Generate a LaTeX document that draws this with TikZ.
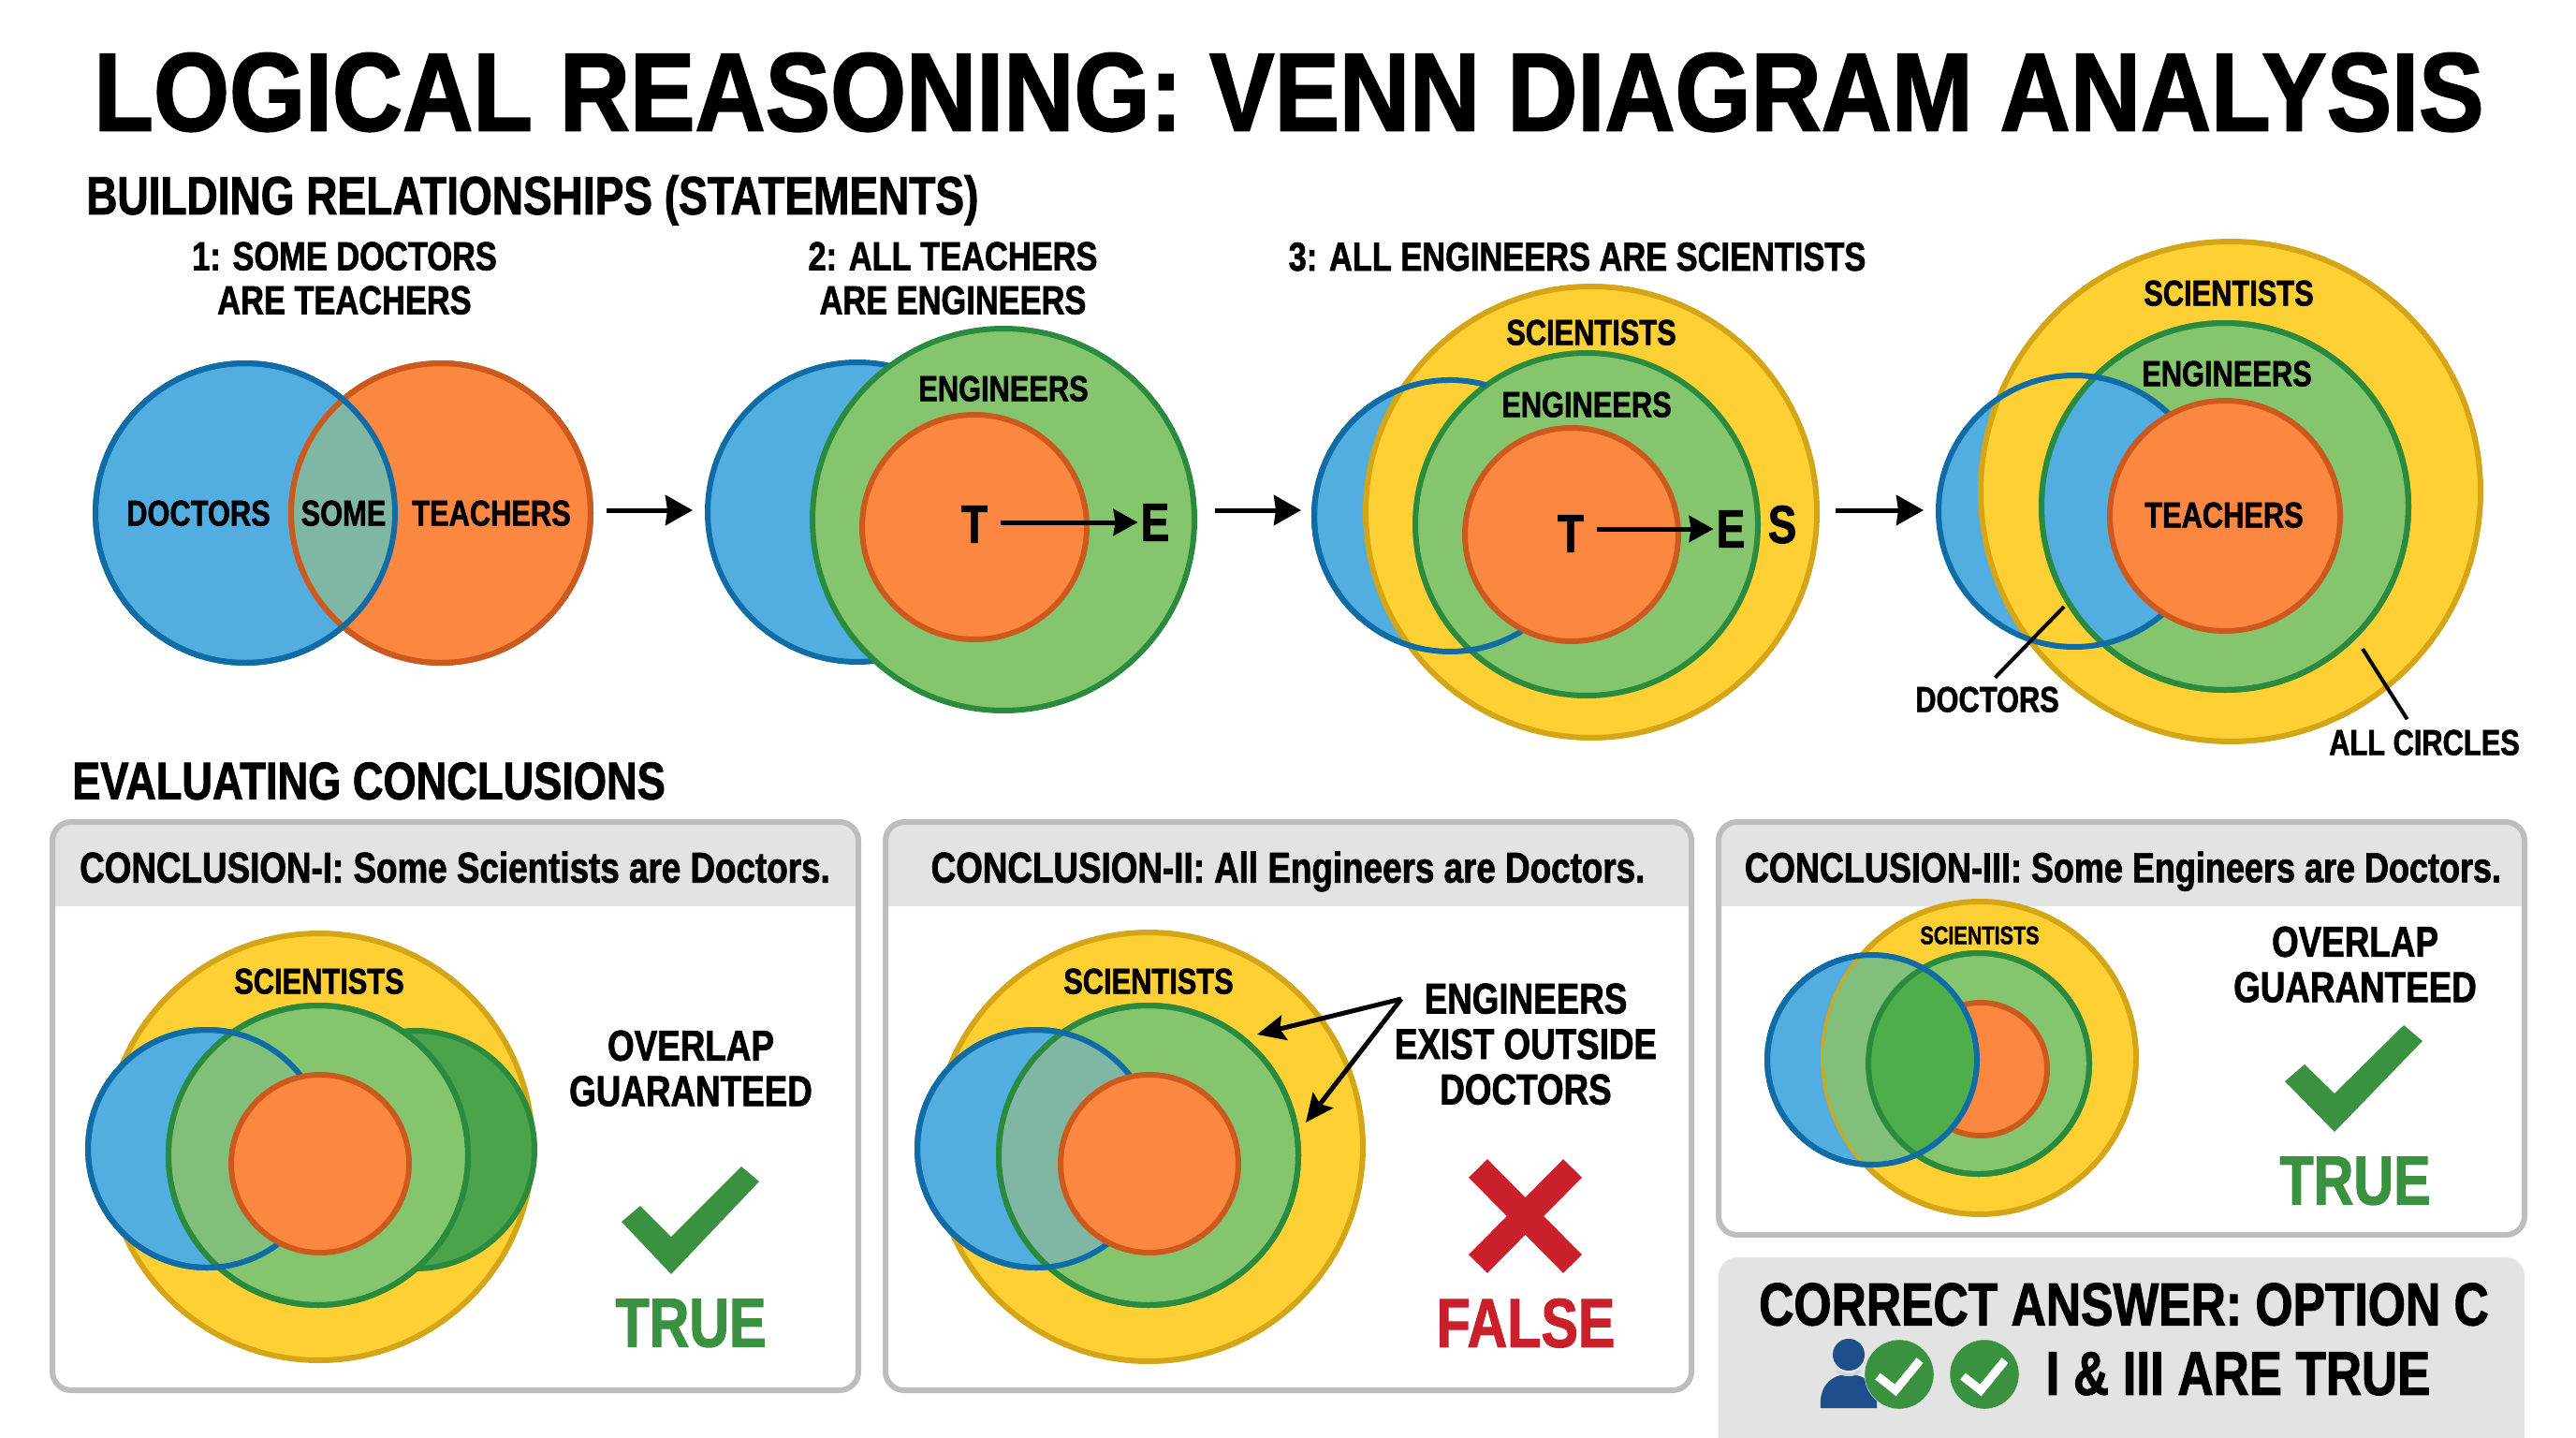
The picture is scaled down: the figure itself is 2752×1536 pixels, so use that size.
\documentclass[tikz,border=0pt]{standalone}
\usepackage{fontspec}
\setmainfont[FakeStretch=0.8,BoldFeatures={FakeBold=1.5}]{Liberation Sans}
\newfontfamily\titlefont[FakeStretch=0.875,BoldFeatures={FakeBold=1.5}]{Liberation Sans}
\usetikzlibrary{arrows,arrows.meta}

\definecolor{docfill}{HTML}{52ADE0}
\definecolor{docline}{HTML}{0F6CA6}
\definecolor{teafill}{HTML}{FC8740}
\definecolor{tealine}{HTML}{CC5A1E}
\definecolor{engfill}{HTML}{84C56E}
\definecolor{engline}{HTML}{2A8A3E}
\definecolor{scifill}{HTML}{FFD033}
\definecolor{sciline}{HTML}{D4A516}
\definecolor{lensteal}{HTML}{7FB6A4}
\definecolor{lenspale}{HTML}{82BF7A}
\definecolor{lensdark}{HTML}{4FAE4C}
\definecolor{otherfill}{HTML}{4BA34B}
\definecolor{okgreen}{HTML}{3A9140}
\definecolor{badred}{HTML}{C9202C}
\definecolor{panelline}{HTML}{BDBDBD}
\definecolor{panelhead}{HTML}{E3E3E3}
\definecolor{personblue}{HTML}{1F4E8C}

\begin{document}
\begin{tikzpicture}[x=1pt,y=-1pt,>=stealth']
    \tikzstyle{doc}=[draw=docline,fill=docfill,line width=6pt]
    \tikzstyle{tea}=[draw=tealine,fill=teafill,line width=6pt]
    \tikzstyle{eng}=[draw=engline,fill=engfill,line width=6pt]
    \tikzstyle{sci}=[draw=sciline,fill=scifill,line width=6pt]
    \tikzstyle{docedge}=[draw=docline,line width=6pt]
    \tikzstyle{teaedge}=[draw=tealine,line width=6pt]
    \tikzstyle{engedge}=[draw=engline,line width=6pt]
    \tikzstyle{txt}=[inner sep=1pt,text depth=0pt,align=center]
    \tikzstyle{heading}=[txt,font=\bfseries\fontsize{56.5}{60}\selectfont]
    \tikzstyle{stmt}=[txt,font=\bfseries\fontsize{43}{47}\selectfont]
    \tikzstyle{lbl}=[txt,font=\bfseries\fontsize{38.5}{42}\selectfont]
    \tikzstyle{smalllbl}=[txt,font=\bfseries\fontsize{27}{30}\selectfont]
    \tikzstyle{biglbl}=[txt,inner sep=3pt,font=\bfseries\fontsize{57}{60}\selectfont]
    \tikzstyle{note}=[txt,font=\bfseries\fontsize{46}{48.5}\selectfont]
    \tikzstyle{verdict}=[txt,font=\bfseries\fontsize{74}{78}\selectfont]
    \tikzstyle{answer}=[txt,font=\bfseries\fontsize{66}{70}\selectfont]
    \tikzstyle{hop}=[-{Stealth[length=29pt,width=32pt,inset=2pt]},line width=5pt]
    \tikzstyle{inner hop}=[-{Stealth[length=26pt,width=28pt,inset=2pt]},line width=5pt,shorten <=11pt]
    \tikzstyle{pointer}=[-{Stealth[length=30pt,width=27pt,inset=5pt]},line width=5pt]
    \tikzstyle{leader}=[line width=4pt,shorten >=12pt]
    \tikzstyle{panel}=[draw=panelline,line width=6pt,rounded corners=20pt]
    \tikzstyle{headbar}=[fill=panelhead,rounded corners=20pt]

    \useasboundingbox (0,0) rectangle (2752,1536);

    \node [txt,font=\titlefont\bfseries\fontsize{119}{120}\selectfont] (title) at (1377,98) {LOGICAL REASONING: VENN DIAGRAM ANALYSIS};
    \node [heading,anchor=west,font=\bfseries\fontsize{57.5}{60}\selectfont] (build) at (91,208) {BUILDING RELATIONSHIPS (STATEMENTS)};
    \node [heading,anchor=west] (evalu) at (76,834) {EVALUATING CONCLUSIONS};

    % statement 1
    \node [stmt] (s1) at (368,297) {1: SOME DOCTORS\\ARE TEACHERS};
    \coordinate (d1) at (262,548);
    \coordinate (t1) at (471,548);
    \draw [doc] (d1) circle (160);
    \draw [tea] (t1) circle (160);
    \begin{scope}
        \clip (d1) circle (160);
        \fill [lensteal] (t1) circle (160);
    \end{scope}
    \draw [teaedge] (t1) circle (160);
    \draw [docedge] (d1) circle (160);
    \node [lbl] (d1l) at (212,548) {DOCTORS};
    \node [lbl] (so1) at (367,548) {SOME};
    \node [lbl] (t1l) at (525,548) {TEACHERS};
    \coordinate (a1s) at (648,545);
    \coordinate (a1e) at (740,545);
    \draw [hop] (a1s) -- (a1e);

    % statement 2
    \node [stmt] (s2) at (1018,297) {2: ALL TEACHERS\\ARE ENGINEERS};
    \coordinate (d2) at (916,547);
    \coordinate (e2) at (1072,555);
    \coordinate (t2) at (1041,563);
    \draw [doc] (d2) circle (160);
    \draw [eng] (e2) circle (204);
    \draw [tea] (t2) circle (120);
    \node [lbl] (e2l) at (1072,415) {ENGINEERS};
    \node [biglbl] (t2s) at (1041,560) {T};
    \node [biglbl] (e2s) at (1234,558) {E};
    \draw [inner hop] (t2s.east |- e2s.west) -- (e2s.west);
    \coordinate (a2s) at (1298,545);
    \coordinate (a2e) at (1390,545);
    \draw [hop] (a2s) -- (a2e);

    % statement 3
    \node [stmt] (s3) at (1685,274) {3: ALL ENGINEERS ARE SCIENTISTS};
    \coordinate (d3) at (1549,551);
    \coordinate (c3) at (1700,547);
    \coordinate (e3) at (1695,560);
    \coordinate (t3) at (1679,571);
    \draw [doc] (d3) circle (145);
    \draw [sci] (c3) circle (241);
    \draw [eng] (e3) circle (183);
    \draw [docedge] (d3) ++(-74.5:145) arc [start angle=-74.5,end angle=-302,radius=145];
    \draw [tea] (t3) circle (114);
    \node [lbl] (c3l) at (1700,355) {SCIENTISTS};
    \node [lbl] (e3l) at (1695,432) {ENGINEERS};
    \node [biglbl] (t3s) at (1678,570) {T};
    \node [biglbl] (e3s) at (1849,565) {E};
    \node [biglbl] (c3s) at (1904,560) {S};
    \draw [inner hop] (t3s.east |- e3s.west) -- (e3s.west);
    \coordinate (a3s) at (1961,545);
    \coordinate (a3e) at (2055,545);
    \draw [hop] (a3s) -- (a3e);

    % all together
    \coordinate (d4) at (2216,546);
    \coordinate (c4) at (2383,525);
    \coordinate (e4) at (2377,541);
    \coordinate (t4) at (2377,551);
    \fill [docfill] (d4) circle (145);
    \draw [sci] (c4) circle (267);
    \draw [eng] (e4) circle (196);
    \begin{scope}
        \clip (e4) circle (196);
        \fill [docfill] (d4) circle (145);
    \end{scope}
    \draw [engedge] (e4) circle (196);
    \draw [docedge] (d4) circle (145);
    \draw [tea] (t4) circle (123);
    \node [lbl] (c4l) at (2381,313) {SCIENTISTS};
    \node [lbl] (e4l) at (2379,399) {ENGINEERS};
    \node [lbl] (t4l) at (2376,550) {TEACHERS};
    \node [lbl] (d4l) at (2123,747) {DOCTORS};
    \node [lbl] (all4) at (2590,793) {ALL CIRCLES};
    \coordinate (d4p) at (2205,648);
    \coordinate (all4p) at (2524,693);
    \draw [leader] (d4p) -- (d4l.north);
    \draw [leader] (all4p) -- ([xshift=-12pt]all4.north);

    % conclusion 1
    \fill [headbar] (56,968) -- (56,878) -- (917,878) -- (917,968);
    \draw [panel] (56,878) rectangle (917,1485);
    \node [note] (h1) at (486,926) {CONCLUSION-I: Some Scientists are Doctors.};
    \coordinate (c5) at (341,1225);
    \coordinate (d5) at (221,1227);
    \coordinate (o5) at (444,1228);
    \coordinate (e5) at (340,1234);
    \coordinate (t5) at (342,1243);
    \draw [sci] (c5) circle (228);
    \draw [doc] (d5) circle (127);
    \draw [engedge,fill=otherfill] (o5) circle (127);
    \draw [eng] (e5) circle (160);
    \begin{scope}
        \clip (e5) circle (160);
        \fill [lenspale] (d5) circle (127);
    \end{scope}
    \draw [engedge] (e5) circle (160);
    \draw [docedge] (d5) circle (127);
    \draw [tea] (t5) circle (95);
    \node [lbl] (c5l) at (341,1048) {SCIENTISTS};
    \node [note] (n1) at (738,1141) {OVERLAP\\GUARANTEED};
    \fill [okgreen] (664,1305) -- (684,1288) -- (717,1321) -- (792,1246) -- (811,1262) -- (717,1361) -- cycle;
    \node [verdict,text=okgreen] (v1) at (738,1413) {TRUE};

    % conclusion 2
    \fill [headbar] (946,968) -- (946,878) -- (1807,878) -- (1807,968);
    \draw [panel] (946,878) rectangle (1807,1485);
    \node [note] (h2) at (1376,926) {CONCLUSION-II: All Engineers are Doctors.};
    \coordinate (c6) at (1227,1225);
    \coordinate (d6) at (1107,1227);
    \coordinate (e6) at (1227,1234);
    \coordinate (t6) at (1228,1243);
    \draw [sci] (c6) circle (229);
    \draw [doc] (d6) circle (127);
    \draw [eng] (e6) circle (160);
    \begin{scope}
        \clip (e6) circle (160);
        \fill [lensteal] (d6) circle (127);
    \end{scope}
    \draw [engedge] (e6) circle (160);
    \draw [docedge] (d6) circle (127);
    \draw [tea] (t6) circle (95);
    \node [lbl] (c6l) at (1227,1048) {SCIENTISTS};
    \node [note] (n2) at (1630,1115) {ENGINEERS\\EXIST OUTSIDE\\DOCTORS};
    \coordinate (p2) at (1497,1067);
    \coordinate (p2a) at (1343,1105);
    \coordinate (p2b) at (1395,1199);
    \draw [pointer] (p2) -- (p2a);
    \draw [pointer] (p2) -- (p2b);
    \draw [badred,line width=28pt] (1579,1248) -- (1680,1350);
    \draw [badred,line width=28pt] (1680,1248) -- (1579,1350);
    \node [verdict,text=badred] (v2) at (1630,1413) {FALSE};

    % conclusion 3
    \fill [headbar] (1836,968) -- (1836,878) -- (2697,878) -- (2697,968);
    \draw [panel] (1836,878) rectangle (2697,1319);
    \node [note,font=\bfseries\fontsize{45}{48}\selectfont] (h3) at (2268,926) {CONCLUSION-III: Some Engineers are Doctors.};
    \coordinate (c7) at (2115,1130);
    \coordinate (d7) at (2000,1132);
    \coordinate (e7) at (2114,1136);
    \coordinate (t7) at (2116,1142);
    \draw [doc] (d7) circle (112);
    \draw [sci] (c7) circle (167);
    \draw [eng] (e7) circle (118);
    \draw [tea] (t7) circle (71);
    \begin{scope}
        \clip (d7) circle (112);
        \fill [lenspale] (c7) circle (167);
        \fill [lensdark] (e7) circle (118);
    \end{scope}
    \draw [engedge] (e7) circle (118);
    \draw [docedge] (d7) circle (112);
    \node [smalllbl] (c7l) at (2115,999) {SCIENTISTS};
    \node [note] (n3) at (2516,1030) {OVERLAP\\GUARANTEED};
    \fill [okgreen] (2441,1155) -- (2462,1137) -- (2494,1168) -- (2568,1095) -- (2588,1112) -- (2494,1209) -- cycle;
    \node [verdict,text=okgreen] (v3) at (2516,1261) {TRUE};

    % answer box
    \fill [headbar] (1836,1536) -- (1836,1343) -- (2697,1343) -- (2697,1536);
    \node [answer,font=\bfseries\fontsize{64.5}{70}\selectfont] (ans) at (2269,1393) {CORRECT ANSWER: OPTION C};
    \node [answer] (res) at (2391,1467) {I \& III ARE TRUE};
    \coordinate (hd) at (1975,1447);
    \coordinate (k1) at (2029,1468);
    \coordinate (k2) at (2120,1468);
    \fill [personblue] (hd) circle (17);
    \fill [personblue] (1945,1504) .. controls (1943,1482) and (1955,1468) .. (1975,1468) .. controls (1995,1468) and (2007,1482) .. (2005,1504) -- cycle;
    \draw [white!75!personblue,line width=3pt] (1962,1464) .. controls (1968,1470) and (1982,1470) .. (1988,1464);
    \draw [panelhead,fill=okgreen] (k1) circle (37);
    \draw [panelhead,fill=okgreen] (k2) circle (37);
    \draw [white,line width=9pt] (2006,1470) -- (2025,1485) -- (2051,1453);
    \draw [white,line width=9pt] (2097,1470) -- (2116,1485) -- (2142,1453);
\end{tikzpicture}
\end{document}
